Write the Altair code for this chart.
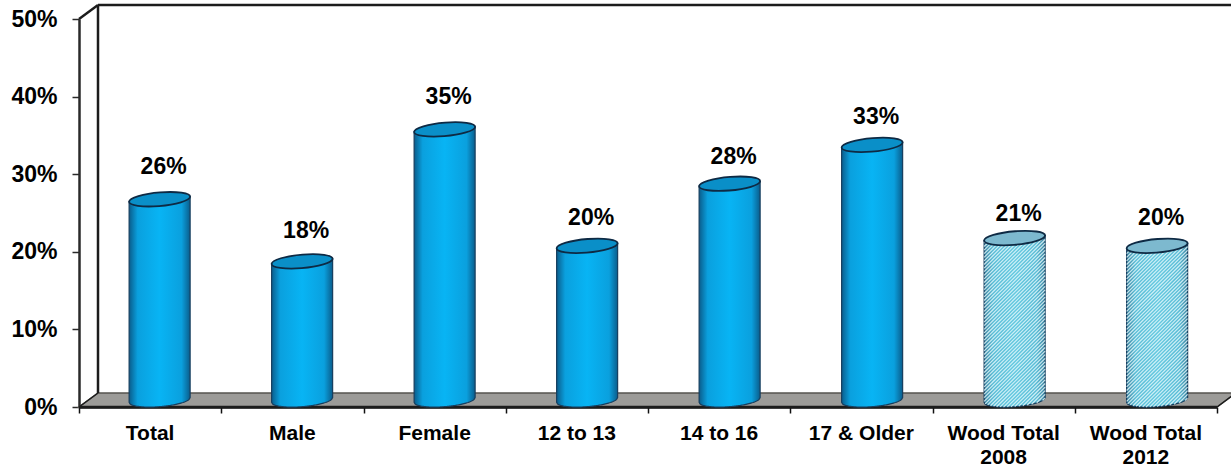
import altair as alt
import numpy as np
import pandas as pd

categories = ["Total", "Male", "Female", "12 to 13", "14 to 16", "17 & Older", "Wood Total\n2008", "Wood Total\n2012"]
values = [26, 18, 35, 20, 28, 33, 21, 20]
groups = ["survey", "survey", "survey", "survey", "survey", "survey", "wood", "wood"]
y_ticks = [0, 10, 20, 30, 40, 50]

# Frame dimensions: one x unit is one category slot, y is in percent.
W, H = 1138, 388
PX_X = W / 8
PX_Y = H / 50
FONT = "Liberation Sans"
DEPTH_X = 19 / PX_X
DEPTH_Y = 14 / PX_Y
HALF_W = 30.5
CAP_RY = 6.7
TILT = 2.4
SLOT_DRIFT = 0.25 / PX_X
CAP_LIFT = DEPTH_Y / 2 - 1 / PX_Y

# Height of each value label above its cylinder cap, in pixels
label_lift = [32, 30, 32, 28, 27, 28, 24, 28]

INK = "#1c1c1c"


def centre(i):
    return i + 0.5 + DEPTH_X / 2 + i * SLOT_DRIFT


def cylinder_outline(i, value):
    """Body outline of one cylinder in data units: tilted top, rounded bottom."""
    cx = centre(i)
    rows = []
    for t in np.linspace(-1, 1, 61):
        rows.append({
            "cat": i,
            "x": cx + t * HALF_W / PX_X,
            "y": value + CAP_LIFT + TILT * t / PX_Y,
            "bottom": DEPTH_Y / 2 + (TILT * t - CAP_RY * np.sqrt(1 - t * t)) / PX_Y,
        })
    return rows


def hatch_lines(i, value, spacing=3.6):
    """Diagonal stripes clipped to the cylinder body."""
    cx = centre(i)
    top_px = (value + CAP_LIFT) * PX_Y
    base_px = DEPTH_Y / 2 * PX_Y
    rows = []
    for c in np.arange(-HALF_W * 2, top_px + HALF_W * 2, spacing):
        xs = np.linspace(-HALF_W, HALF_W, 240)
        ys = c + xs
        t = xs / HALF_W
        inside = (ys <= top_px + TILT * t) & (ys >= base_px + TILT * t - CAP_RY * np.sqrt(1 - t * t))
        if inside.sum() > 1:
            a, b = np.where(inside)[0][[0, -1]]
            rows.append({"x": cx + xs[a] / PX_X, "x2": cx + xs[b] / PX_X,
                         "y": ys[a] / PX_Y, "y2": ys[b] / PX_Y})
    return rows


bars = pd.DataFrame({
    "idx": range(8),
    "cat": categories,
    "value": values,
    "group": groups,
})
bars["x"] = [centre(i) for i in range(8)]
bars["y"] = bars["value"] + CAP_LIFT
bars["mid"] = bars["idx"] + 0.5
bars["label"] = bars["value"].astype(str) + "%"
bars["zero"] = 0
bars["label_y"] = bars["y"] + np.array(label_lift) / PX_Y

xs_scale = alt.Scale(domain=[0, 8], nice=False, zero=False)
ys_scale = alt.Scale(domain=[0, 50], nice=False)

# Every layer shares the same axis definitions so that Vega-Lite merges them.
x_axis = alt.Axis(
    values=list(range(9)), labels=False, title=None, grid=False,
    domainColor="#111111", domainWidth=2.5, tickColor="#111111", tickSize=6, tickWidth=1.5,
)
y_axis = alt.Axis(
    values=y_ticks, title=None, grid=False,
    labelExpr="datum.value + '%'", labelFont=FONT, labelFontWeight="bold",
    labelFontSize=23, labelColor="#000000", labelPadding=15,
    domainColor="#2a2a2a", domainWidth=2.5, tickColor="#2a2a2a", tickSize=7, tickWidth=1.5,
)


def X(field="x:Q"):
    return alt.X(field, scale=xs_scale, axis=x_axis)


def Y(field="y:Q"):
    return alt.Y(field, scale=ys_scale, axis=y_axis)


# Grey floor of the box
floor = alt.Chart(pd.DataFrame({
    "x": [0, DEPTH_X, 8, 8 + DEPTH_X],
    "y": [0, 0, 0, DEPTH_Y],
    "y2": [0, DEPTH_Y, DEPTH_Y, DEPTH_Y],
})).mark_area(fill="#9c9b98", stroke="#55544f", strokeWidth=1.5, opacity=1).encode(
    x=X(), y=Y(), y2="y2:Q"
)

# Box frame: back wall, side wall and front floor edge
frame_segments = pd.DataFrame([
    {"x": 0, "y": 50, "x2": DEPTH_X, "y2": 50 + DEPTH_Y, "w": 2.5},
    {"x": DEPTH_X, "y": 50 + DEPTH_Y, "x2": 8 + DEPTH_X, "y2": 50 + DEPTH_Y, "w": 2.5},
    {"x": DEPTH_X, "y": DEPTH_Y, "x2": DEPTH_X, "y2": 50 + DEPTH_Y, "w": 2.5},
    {"x": 0, "y": 0, "x2": DEPTH_X, "y2": DEPTH_Y, "w": 1.5},
    {"x": 8, "y": 0, "x2": 8 + DEPTH_X, "y2": DEPTH_Y, "w": 1.5},
    {"x": 0, "y": 0, "x2": 8, "y2": 0, "w": 2.5},
])
frame = alt.Chart(frame_segments).mark_rule(color=INK).encode(
    x=X(), y=Y(), x2="x2:Q", y2="y2:Q",
    strokeWidth=alt.StrokeWidth("w:Q", scale=None, legend=None),
)

category_labels = alt.Chart(bars).mark_text(
    font=FONT, fontWeight="bold", fontSize=21, color="#000000",
    baseline="top", lineBreak="\n", lineHeight=24, dy=16,
).encode(x=X("mid:Q"), y=Y("zero:Q"), text="cat:N")


def body_gradient(edge, shoulder, mid):
    return alt.Gradient(
        gradient="linear", x1=0, x2=1, y1=0, y2=0,
        stops=[
            alt.GradientStop(color=edge, offset=0),
            alt.GradientStop(color=shoulder, offset=0.14),
            alt.GradientStop(color=mid, offset=0.5),
            alt.GradientStop(color=shoulder, offset=0.86),
            alt.GradientStop(color=edge, offset=1),
        ],
    )


outlines = pd.DataFrame([r for i, v in enumerate(values) for r in cylinder_outline(i, v)])
solid_idx = [i for i, g in enumerate(groups) if g == "survey"]
wood_idx = [i for i, g in enumerate(groups) if g == "wood"]


def bodies(indices, fill):
    data = outlines[outlines["cat"].isin(indices)]
    return alt.Chart(data).mark_area(
        fill=fill, stroke="#173f5f", strokeWidth=1.2, opacity=1
    ).encode(x=X(), y=Y(), y2="bottom:Q", detail="cat:N")


solid_bodies = bodies(solid_idx, body_gradient("#0a5d8c", "#0aa0de", "#08b4f4"))
wood_bodies = bodies(wood_idx, body_gradient("#3a7f9c", "#58bcd6", "#62c8e0"))

hatch = pd.DataFrame([r for i in wood_idx for r in hatch_lines(i, values[i])])
stripes = alt.Chart(hatch).mark_rule(color="#e2f7fa", strokeWidth=1.2, opacity=0.85).encode(
    x=X(), y=Y(), x2="x2:Q", y2="y2:Q"
)

# Elliptical cap, tilted a few degrees; unit radius equals half the cylinder width
CAP_PATH = "M-1,0.08 A1,0.22 -5 1 1 1,-0.08 A1,0.22 -5 1 1 -1,0.08 Z"


def caps(group, fill):
    return alt.Chart(bars[bars["group"] == group]).mark_point(
        shape=CAP_PATH, size=(2 * HALF_W) ** 2, filled=True, fill=fill,
        stroke="#0e2a44", strokeWidth=1.8, opacity=1,
    ).encode(x=X(), y=Y())


value_labels = alt.Chart(bars).mark_text(
    font=FONT, fontWeight="bold", fontSize=23, color="#000000", dx=4,
).encode(x=X(), y=Y("label_y:Q"), text="label:N")

chart = alt.layer(
    floor, frame, solid_bodies, wood_bodies, stripes,
    caps("survey", "#0a8fc8"), caps("wood", "#7db9cf"),
    value_labels, category_labels,
).properties(
    width=W, height=H,
    padding={"left": 79, "top": 19, "right": 14, "bottom": 60},
    autosize=alt.AutoSizeParams(type="none"),
    background="#ffffff",
).configure_view(stroke=None)

chart.save("out.html", embed_options={"renderer": "svg", "actions": False})
